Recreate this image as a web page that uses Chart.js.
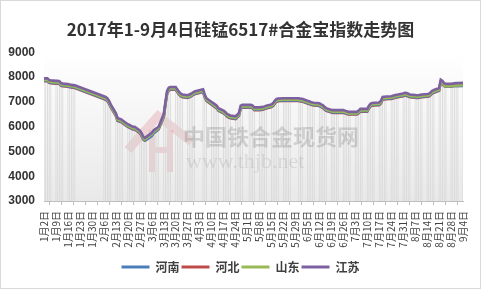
<!DOCTYPE html>
<html><head><meta charset="utf-8">
<script src="https://cdn.jsdelivr.net/npm/chart.js@4/dist/chart.umd.min.js"></script>
<style>html,body{margin:0;padding:0;background:#fff;}canvas{display:block;}</style>
</head><body>
<canvas id="c" width="481" height="289"></canvas>
<script>
const chartTitle = "2017年1-9月4日硅锰6517#合金宝指数走势图";
const seriesNames = ["河南", "河北", "山东", "江苏"];
const tickLabels = ["1月2日","1月9日","1月16日","1月23日","1月30日","2月6日","2月13日","2月20日","2月27日","3月6日","3月13日","3月20日","3月27日","4月3日","4月10日","4月17日","4月24日","5月1日","5月8日","5月15日","5月22日","5月29日","6月5日","6月12日","6月19日","6月26日","7月3日","7月10日","7月17日","7月24日","7月31日","8月7日","8月14日","8月21日","8月28日","9月4日"];
const tradeDates = [
"1/2","1/3","1/4","1/5","1/6","1/9","1/10","1/11","1/12","1/13","1/16","1/17","1/18","1/19","1/20",
"2/6","2/7","2/8","2/9","2/10","2/13","2/14","2/15","2/16","2/17","2/20","2/21","2/22","2/23","2/24","2/27","2/28",
"3/1","3/2","3/3","3/6","3/7","3/8","3/9","3/10","3/13","3/14","3/15","3/16","3/17","3/20","3/21","3/22","3/23","3/24","3/27","3/28","3/29","3/30","3/31",
"4/5","4/6","4/7","4/10","4/11","4/12","4/13","4/14","4/17","4/18","4/19","4/20","4/21","4/24","4/25","4/26","4/27","4/28",
"5/2","5/3","5/4","5/5","5/8","5/9","5/10","5/11","5/12","5/15","5/16","5/17","5/18","5/19","5/22","5/23","5/24","5/25","5/26","5/31",
"6/1","6/2","6/5","6/6","6/7","6/8","6/9","6/12","6/13","6/14","6/15","6/16","6/19","6/20","6/21","6/22","6/23","6/26","6/27","6/28","6/29","6/30",
"7/3","7/4","7/5","7/6","7/7","7/10","7/11","7/12","7/13","7/14","7/17","7/18","7/19","7/20","7/21","7/24","7/25","7/26","7/27","7/28","7/31",
"8/1","8/2","8/3","8/4","8/7","8/8","8/9","8/10","8/11","8/14","8/15","8/16","8/17","8/18","8/21","8/22","8/23","8/24","8/25","8/28","8/29","8/30","8/31",
"9/1","9/4"];
const henan = [
7860,7860,7860,7790,7780,7760,7760,7750,7670,7650,7630,7610,7600,7590,7580,
7140,7110,7060,6960,6810,6460,6260,6230,6210,6160,6010,5980,5940,5910,5910,5760,5650,
5500,5450,5480,5620,5730,5790,5850,5910,6410,6910,7360,7490,7510,7510,7410,7310,7240,7210,7180,7210,7240,7290,7330,
7420,7210,7060,6910,6860,6810,6760,6660,6560,6510,6430,6390,6360,6330,6390,6470,6760,6790,
6790,6790,6760,6690,6690,6700,6710,6730,6760,6810,6860,6960,7030,7050,7060,7060,7060,7060,7060,7060,
7040,7040,6960,6940,6910,6890,6880,6860,6810,6780,6710,6660,6590,6580,6580,6580,6580,6580,6560,6530,6510,6510,
6510,6510,6560,6630,6630,6630,6760,6840,6870,6880,6890,6960,7110,7120,7130,7140,7160,7180,7200,7210,7250,
7280,7270,7240,7210,7190,7180,7180,7200,7210,7230,7240,7290,7360,7390,7470,7810,7760,7650,7630,7630,7640,7650,7650,
7650,7650];
const hebei = [
7840,7840,7840,7770,7760,7740,7740,7730,7650,7630,7610,7590,7580,7570,7560,
7120,7090,7040,6940,6790,6440,6240,6210,6190,6140,5990,5960,5920,5890,5890,5740,5640,
5490,5440,5490,5640,5740,5790,5840,5890,6390,6890,7340,7470,7490,7490,7390,7290,7220,7190,7160,7190,7220,7270,7310,
7400,7190,7040,6890,6840,6790,6740,6640,6540,6490,6410,6370,6340,6310,6370,6450,6740,6770,
6770,6770,6740,6670,6670,6680,6690,6710,6740,6790,6840,6940,7010,7030,7040,7040,7040,7040,7040,7040,
7020,7020,6940,6920,6890,6870,6860,6840,6790,6760,6690,6640,6570,6560,6560,6560,6560,6560,6540,6510,6490,6490,
6490,6490,6540,6610,6610,6610,6740,6820,6850,6860,6870,6940,7090,7100,7110,7120,7140,7160,7180,7190,7230,
7260,7250,7220,7190,7170,7160,7160,7180,7190,7210,7220,7270,7340,7370,7450,7790,7740,7640,7620,7620,7630,7640,7650,
7650,7660];
const shandong = [
7890,7890,7890,7820,7810,7790,7790,7780,7700,7680,7660,7640,7630,7620,7610,
7170,7140,7090,6990,6840,6490,6290,6260,6240,6190,6040,6010,5970,5940,5940,5790,5690,
5540,5490,5540,5690,5790,5840,5890,5940,6440,6940,7390,7520,7540,7540,7440,7340,7270,7240,7210,7240,7270,7320,7360,
7450,7240,7090,6940,6890,6840,6790,6690,6590,6540,6460,6420,6390,6360,6420,6500,6790,6820,
6820,6820,6790,6720,6720,6730,6740,6760,6790,6840,6890,6990,7060,7080,7090,7090,7090,7090,7090,7090,
7070,7070,6990,6970,6940,6920,6910,6890,6840,6810,6740,6690,6620,6610,6610,6610,6610,6610,6590,6560,6540,6540,
6540,6540,6590,6660,6660,6660,6790,6870,6900,6910,6920,6990,7140,7150,7160,7170,7190,7210,7230,7240,7280,
7310,7300,7270,7240,7220,7210,7210,7230,7240,7260,7270,7320,7390,7420,7500,7820,7770,7660,7640,7640,7650,7660,7670,
7670,7680];
const jiangsu = [
7950,7950,7950,7880,7870,7850,7850,7840,7760,7740,7720,7700,7690,7680,7670,
7230,7200,7150,7050,6900,6550,6350,6320,6300,6250,6100,6070,6030,6000,6000,5850,5750,
5600,5550,5600,5750,5850,5900,5950,6000,6500,7000,7450,7580,7600,7600,7500,7400,7330,7300,7270,7300,7330,7380,7420,
7510,7300,7150,7000,6950,6900,6850,6750,6650,6600,6520,6480,6450,6420,6480,6560,6850,6880,
6880,6880,6850,6780,6780,6790,6800,6820,6850,6900,6950,7050,7120,7140,7150,7150,7150,7150,7150,7150,
7130,7130,7050,7030,7000,6980,6970,6950,6900,6870,6800,6750,6680,6670,6670,6670,6670,6670,6650,6620,6600,6600,
6600,6600,6650,6720,6720,6720,6850,6930,6960,6970,6980,7050,7200,7210,7220,7230,7250,7270,7290,7300,7340,
7370,7360,7330,7300,7280,7270,7270,7290,7300,7320,7330,7380,7450,7480,7560,7900,7850,7750,7730,7730,7740,7750,7760,
7760,7770];

const colors = ["#4a7ebb", "#be4b48", "#98b954", "#7d60a0"];
const orders = [3, 4, 2, 1];
const seriesValues = [henan, hebei, shandong, jiangsu];

function dayIndex(s) {
  const [m, d] = s.split("/").map(Number);
  return Math.round((Date.UTC(2017, m - 1, d) - Date.UTC(2017, 0, 2)) / 86400000);
}
const xs = tradeDates.map(dayIndex);
const toPts = arr => arr.map((v, i) => ({x: xs[i], y: v}));

const datasets = seriesNames.map((name, k) => ({
  type: 'line', label: name, data: toPts(seriesValues[k]),
  borderColor: colors[k], backgroundColor: colors[k], borderWidth: 2.6,
  pointRadius: 0, tension: 0, order: orders[k], yAxisID: 'y'
}));
datasets.push({
  type: 'bar', label: '_drop', data: toPts(jiangsu), yAxisID: 'y',
  backgroundColor: '#d8d8d8', barThickness: 0.8, inflateAmount: 0, order: 10
});

const bgPlugin = {
  id: 'bg',
  beforeDraw(chart) {
    const {ctx, chartArea: a} = chart;
    ctx.save();
    ctx.fillStyle = '#fff';
    ctx.fillRect(0, 0, chart.width, chart.height);
    const g = ctx.createLinearGradient(0, a.top, 0, a.bottom);
    g.addColorStop(0, '#ffffff');
    g.addColorStop(1, '#e9e9e9');
    ctx.fillStyle = g;
    ctx.fillRect(a.left, a.top, a.right - a.left, a.bottom - a.top);
    ctx.restore();
  },
  beforeDatasetsDraw(chart) {
    const ctx = chart.ctx;
    ctx.save();
    ctx.strokeStyle = 'rgba(215,110,120,0.25)';
    ctx.lineWidth = 9;
    ctx.beginPath();
    ctx.moveTo(128, 150); ctx.lineTo(158, 116); ctx.lineTo(192, 142);
    ctx.stroke();
    ctx.lineWidth = 6;
    ctx.beginPath();
    ctx.moveTo(152, 130); ctx.lineTo(152, 172);
    ctx.moveTo(170, 130); ctx.lineTo(170, 172);
    ctx.moveTo(152, 150); ctx.lineTo(170, 150);
    ctx.stroke();
    ctx.restore();
  },
  afterDatasetsDraw(chart) {
    const ctx = chart.ctx;
    ctx.save();
    ctx.textBaseline = 'middle';
    ctx.fillStyle = 'rgba(120,120,120,0.28)';
    ctx.font = 'bold 22px "Noto Sans CJK SC"';
    ctx.fillText('中国铁合金现货网', 183, 137);
    ctx.fillStyle = 'rgba(140,140,140,0.22)';
    ctx.font = '22px "Liberation Serif"';
    ctx.fillText('www.thjb.net', 186, 162);
    ctx.restore();
  },
  afterDraw(chart) {
    const ctx = chart.ctx;
    ctx.save();
    ctx.strokeStyle = '#d9d9d9';
    ctx.lineWidth = 1;
    ctx.strokeRect(0.5, 0.5, chart.width - 1, chart.height - 1);
    ctx.restore();
  }
};

new Chart(document.getElementById('c'), {
  data: {datasets},
  plugins: [bgPlugin],
  options: {
    responsive: false, animation: false, devicePixelRatio: 1,
    layout: {padding: {left: 0, right: 0, top: 0, bottom: 6}},
    plugins: {
      title: {display: true, text: chartTitle, color: '#333333',
        font: {family: '"Noto Sans CJK SC"', size: 17, weight: 'bold'},
        padding: {top: 19, bottom: 13}},
      legend: {position: 'bottom',
        labels: {
          color: '#404040', font: {family: '"Noto Sans CJK SC"', size: 12, weight: 'bold'},
          boxWidth: 28, boxHeight: 3, padding: 2,
          filter: it => it.text !== '_drop',
          sort: (a, b) => a.datasetIndex - b.datasetIndex,
          generateLabels: chart => Chart.defaults.plugins.legend.labels.generateLabels(chart)
            .map(l => Object.assign(l, {lineWidth: 0, fillStyle: l.strokeStyle}))
        }},
      tooltip: {enabled: false}
    },
    scales: {
      x: {type: 'linear', min: 0, max: 245, offset: false,
        grid: {display: true, drawOnChartArea: false, drawTicks: true, tickLength: 4, color: '#bfbfbf'},
        border: {display: true, color: '#bfbfbf'},
        ticks: {stepSize: 7, autoSkip: false, maxRotation: 90, minRotation: 90, padding: 6,
          color: '#404040', font: {family: '"Noto Sans CJK SC"', size: 10},
          callback: v => tickLabels[Math.round(v / 7)]},
        afterFit: s => { s.height = 58; }
      },
      y: {min: 3000, max: 9000, position: 'left',
        grid: {display: false, drawTicks: false}, border: {display: false},
        ticks: {stepSize: 1000, padding: 9, color: '#333333',
          font: {family: '"Liberation Sans"', size: 12, weight: 'bold'},
          callback: v => String(v)},
        afterFit: s => { s.width = 44; }
      },
      yRight: {position: 'right', min: 3000, max: 9000,
        grid: {display: false, drawTicks: false}, border: {display: false},
        ticks: {display: false},
        afterFit: s => { s.width = 17; }
      }
    }
  }
});
</script>
</body></html>
